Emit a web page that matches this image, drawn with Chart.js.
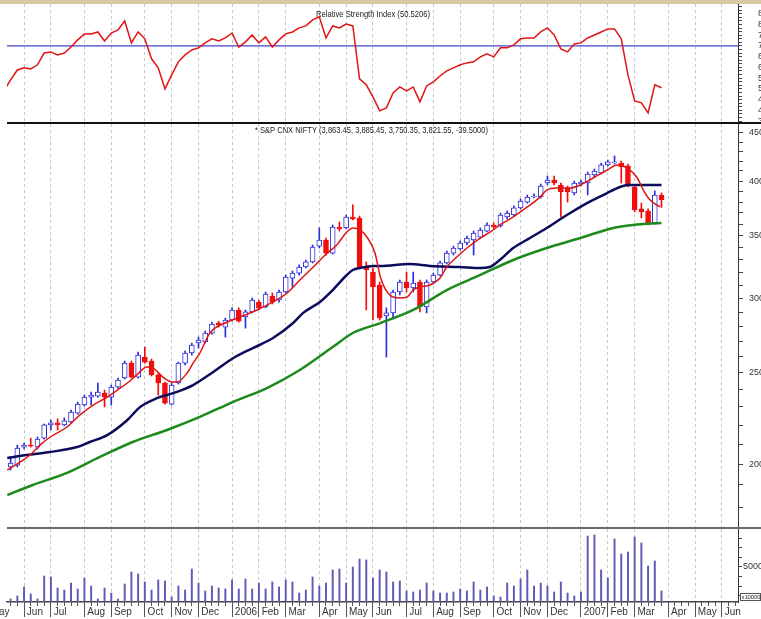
<!DOCTYPE html>
<html>
<head>
<meta charset="utf-8">
<script src="https://cdn.jsdelivr.net/npm/chart.js@4.4.1/dist/chart.umd.min.js"></script>
<style>
body { margin: 0; background: #fff; width: 761px; height: 619px; overflow: hidden; position: relative; }
canvas { position: absolute; left: 0; }
#rsiChart { top: 4px; }
#priceChart { top: 124px; }
#volChart { top: 529px; }
.band { position: absolute; left: 0; top: 0; width: 761px; height: 4px; background: #d9c8a1; }
.sep1 { position: absolute; left: 7px; top: 122px; width: 754px; height: 2px; background: #111; }
.sep2 { position: absolute; left: 7px; top: 527px; width: 754px; height: 2px; background: #6a6a6a; }
</style>
</head>
<body>
<canvas id="rsiChart" width="761" height="118"></canvas>
<canvas id="priceChart" width="761" height="404"></canvas>
<canvas id="volChart" width="761" height="90"></canvas>
<div class="band"></div>
<div class="sep1"></div>
<div class="sep2"></div>
<script>
// weekly bars, week 0 = last week of May 2005
var monthLabels = ['May','Jun','Jul','Aug','Sep','Oct','Nov','Dec','2006','Feb','Mar','Apr','May','Jun','Jul','Aug','Sep','Oct','Nov','Dec','2007','Feb','Mar','Apr','May','Jun'];
var monthWeeks = [-3.4,2,6,11,15,20,24,28,33,37,41,46,50,54,59,63,67,72,76,80,85,89,93,98,102,106];

var opens = [1986,1995,2085,2095,2085,2131,2201,2212,2201,2217,2266,2311,2356,2362,2379,2356,2415,2469,2561,2475,
  2599,2574,2488,2439,2316,2439,2561,2625,2690,2697,2756,2824,2797,2846,2917,2867,2903,2974,2939,3018,
  2989,3048,3154,3193,3241,3281,3411,3462,3353,3574,3566,3663,3654,3249,3201,3101,2874,2896,3048,3124,
  3078,3124,2939,3124,3177,3273,3353,3387,3437,3462,3487,3539,3592,3583,3663,3681,3745,3799,3847,3847,
  3981,4010,3962,3932,3885,3971,3981,4060,4080,4161,4181,4181,4151,3942,3736,3717,3610,3863.45];
var highs = [2030,2095,2105,2131,2137,2206,2228,2234,2239,2283,2328,2368,2385,2439,2397,2427,2469,2574,2574,2631,
  2664,2586,2494,2445,2439,2567,2638,2690,2730,2770,2831,2838,2860,2932,2932,2917,3004,2989,3048,3041,
  3063,3177,3209,3257,3297,3420,3566,3479,3592,3619,3681,3773,3672,3281,3233,3124,2932,3063,3139,3201,
  3201,3139,3139,3193,3289,3370,3411,3454,3496,3539,3566,3610,3610,3699,3717,3764,3828,3866,3876,3971,
  4050,4050,3981,3952,4000,4010,4090,4120,4181,4212,4254,4202,4171,3962,3790,3736,3904,3885.45];
var lows = [1971,1986,2075,2085,2075,2126,2174,2174,2196,2212,2260,2305,2311,2356,2300,2311,2409,2463,2469,2469,
  2561,2481,2368,2316,2311,2433,2549,2612,2657,2690,2749,2797,2730,2838,2831,2790,2896,2917,2932,2960,
  2974,3041,3086,3177,3233,3273,3395,3337,3345,3539,3557,3636,3233,2917,2846,2846,2599,2853,3026,3048,
  3048,2903,2896,3109,3170,3265,3337,3378,3420,3337,3479,3531,3557,3574,3645,3672,3736,3789,3837,3837,
  3962,3962,3663,3799,3866,3952,3866,4040,4070,4151,4171,3981,3942,3708,3654,3592,3601,3750.35];
var closes = [2005,2080,2095,2090,2126,2201,2212,2201,2223,2272,2316,2356,2368,2385,2356,2415,2457,2561,2475,2612,
  2567,2488,2439,2322,2427,2561,2625,2677,2710,2756,2817,2810,2846,2917,2838,2903,2989,2932,3033,2974,
  3048,3162,3193,3241,3281,3403,3462,3353,3574,3557,3663,3645,3241,3217,3086,2860,2896,3048,3124,3078,
  3116,2939,3124,3177,3273,3353,3395,3437,3479,3522,3548,3592,3574,3681,3699,3745,3808,3847,3856,3952,
  4010,3981,3894,3894,3981,3991,4070,4100,4161,4192,4192,4141,3952,3726,3708,3610,3866,3821.55];

var volumes = [1670,1980,2920,2190,1670,4060,3960,2810,2600,3330,2710,3850,3020,1670,2810,2290,1670,3230,4480,4270,
  3440,2600,3650,3540,1880,3020,2600,4790,3330,2500,3020,2810,2710,3650,2710,3750,2710,3330,2710,3440,
  2920,3650,3440,2290,2600,3960,3020,3330,4690,4790,3330,5000,5830,5730,3850,4690,4480,3440,3540,2500,
  2400,2600,3330,2500,2290,2290,2400,2710,2500,3440,2600,2920,1980,1880,3330,3020,3750,4690,3020,3330,
  3020,2400,3440,2290,1980,2400,8230,8330,4690,3850,7920,6350,6560,8130,7500,5100,5630,2500];

// moving averages (week, value)
var fastMaWeeks = [-0.5,1.4,2.9,4.4,5.9,8.4,10.3,12.3,14.4,15.9,17.4,18.8,20.3,21.2,22.7,24.1,24.8,26.3,27.2,28.2,
  29.7,32.3,34.2,36.7,39.1,41.2,43.1,45.1,47.2,48.6,50.1,51.0,52.1,53.1,54.3,55.1,56.5,58.0,59.1,60.0,
  61.0,62.5,64.0,65.0,66.5,68.0,70.0,71.5,72.9,74.9,77.0,78.9,79.9,81.4,83.4,84.9,86.8,88.9,90.4,91.3,
  92.3,93.4,94.3,95.3,96.8];
var fastMa = [1971,2010,2045,2096,2137,2190,2255,2311,2356,2397,2439,2488,2537,2531,2475,2445,2445,2500,2561,2625,
  2757,2832,2867,2917,2975,3041,3139,3241,3354,3420,3531,3566,3548,3488,3354,3162,3026,3004,3011,3063,
  3086,3101,3154,3241,3321,3395,3479,3531,3592,3663,3754,3846,3913,3932,3932,3962,4030,4110,4161,4151,
  4110,4030,3913,3818,3754];
var slowMaWeeks = [-0.5,2.4,5.9,9.9,11.8,14.4,17.4,19.3,21.8,24.2,27.2,30.2,33.2,36.1,39.1,42.1,43.6,46.1,48.0,50.1,
  51.0,52.1,54.0,55.1,59.5,62.5,66.9,70.0,71.4,72.9,74.9,77.4,79.9,82.9,85.9,88.9,90.8,91.9,97];
var slowMa = [2030,2045,2060,2085,2111,2147,2228,2300,2350,2379,2427,2506,2593,2657,2723,2825,2896,2975,3063,3178,
  3217,3233,3249,3249,3265,3249,3241,3233,3241,3297,3395,3479,3566,3681,3790,3884,3942,3962,3962];
var trendMaWeeks = [-0.5,3.3,8.4,13.3,18.2,23.3,28.2,33.1,38.2,43.1,48.0,51.0,55.1,60.0,65.0,70.0,74.9,79.9,84.9,89.8,92.8,97];
var trendMa = [1854,1900,1957,2035,2111,2174,2245,2328,2409,2518,2664,2757,2825,2917,3063,3178,3297,3395,3479,3566,3592,3610];

// RSI from week -1
var rsi = [49.1,54.2,58.8,59.8,59.3,61.2,66.7,67.2,65.8,66.7,69.5,72.8,75.6,75.6,76.5,72.3,76.0,77.4,81.6,71.4,
  76.5,73.3,64.0,59.8,50.0,56.5,62.6,65.8,68.1,69.1,71.4,73.3,72.3,73.7,76.0,69.5,71.9,75.1,71.4,74.2,
  69.5,72.8,75.6,76.5,78.4,79.3,82.1,83.5,73.7,79.3,78.4,80.2,79.3,54.7,51.9,46.3,39.8,41.2,48.1,50.9,
  49.1,50.9,44.0,51.4,53.3,56.0,58.4,59.8,61.2,62.1,62.6,64.9,66.3,64.9,69.1,69.1,70.5,73.3,73.7,73.7,
  76.5,78.4,75.1,68.6,67.2,70.9,71.4,73.7,75.1,76.5,77.9,77.9,73.3,56.5,44.4,43.5,38.8,51.9,50.52];
var rsiLevel = 70;

var priceTicks = [1800,1900,2000,2100,2200,2300,2400,2500,2600,2700,2800,2900,3000,3100,3200,3300,3400,3500,3600,3700,3800,3900,4000,4100,4200,4300,4400,4500];
var volTicks = [2000,3000,4000,5000,6000,7000,8000];

var xMin = -0.54, xMax = 108.4;

Chart.defaults.font.family = '"Liberation Sans Narrow", "Liberation Sans", Arial, sans-serif';
Chart.defaults.font.size = 10;
Chart.defaults.color = '#333';

function pts(xs, ys) {
  return xs.map(function (x, i) { return { x: x, y: ys[i] }; });
}
function isUp(i) { return closes[i] >= opens[i]; }

var titlePlugin = {
  id: 'panelTitle',
  afterDraw: function (chart, args, o) {
    if (!o || !o.text) return;
    var c = chart.ctx;
    c.save();
    c.font = '9px "Liberation Sans", Arial, sans-serif';
    c.fillStyle = '#222';
    c.textBaseline = 'middle';
    c.fillText(o.text, o.x, o.y, o.width);
    c.restore();
  }
};

function gridX() {
  return {
    type: 'linear', min: xMin, max: xMax, offset: false,
    afterBuildTicks: function (s) { s.ticks = monthWeeks.slice(1).map(function (v) { return { value: v }; }); },
    afterFit: function (s) { s.height = 0; s.paddingLeft = 0; s.paddingRight = 0; },
    ticks: { display: false },
    grid: { color: '#c6c6c6', drawTicks: false, offset: false },
    border: { display: false, dash: [3, 3] }
  };
}

function rightFit(s) { s.width = 23; s.paddingTop = 0; s.paddingBottom = 0; }

var base = {
  responsive: false, animation: false,
  layout: { padding: { left: 7, right: 0, top: 0, bottom: 0 } },
  events: []
};

// RSI panel
new Chart(document.getElementById('rsiChart'), {
  type: 'line',
  data: {
    datasets: [
      { data: pts(rsi.map(function (v, i) { return i - 1; }), rsi), borderColor: '#e01414', borderWidth: 1.5, pointRadius: 0, tension: 0 },
      { data: [{ x: xMin, y: rsiLevel }, { x: xMax, y: rsiLevel }], borderColor: '#4444c4', borderWidth: 1.2, pointRadius: 0 }
    ]
  },
  options: Object.assign({}, base, {
    plugins: { legend: { display: false }, tooltip: { enabled: false },
      panelTitle: { text: 'Relative Strength Index (50.5206)', x: 316, y: 11, width: 114 } },
    scales: {
      x: gridX(),
      y: {
        position: 'right', min: 34.6, max: 89.5,
        afterBuildTicks: function (s) {
          var t = [];
          for (var v = 35; v <= 89.4; v += 5 / 3) t.push({ value: v });
          s.ticks = t;
        },
        afterFit: rightFit,
        ticks: { autoSkip: false, padding: 16, font: { size: 9 },
          callback: function (v) { var r = Math.round(v); return (Math.abs(v - r) < 0.01 && r % 5 === 0) ? String(r) : ''; } },
        grid: { drawOnChartArea: false, tickLength: 4, tickColor: '#444' },
        border: { display: true, color: '#333', width: 1 }
      }
    }
  }),
  plugins: [titlePlugin]
});

// price panel
var weekIdx = opens.map(function (v, i) { return i; });
new Chart(document.getElementById('priceChart'), {
  type: 'line',
  data: {
    datasets: [
      { type: 'line', order: 0, data: pts(fastMaWeeks, fastMa), borderColor: '#e01414', borderWidth: 1.5, pointRadius: 0, cubicInterpolationMode: 'monotone' },
      { type: 'line', order: 0, data: pts(slowMaWeeks, slowMa), borderColor: '#0c0c5c', borderWidth: 2.5, pointRadius: 0, cubicInterpolationMode: 'monotone' },
      { type: 'line', order: 0, data: pts(trendMaWeeks, trendMa), borderColor: '#1d8a1d', borderWidth: 2.5, pointRadius: 0, cubicInterpolationMode: 'monotone' },
      { type: 'bar', order: 1, grouped: false, barThickness: 5,
        data: weekIdx.map(function (k) { return { x: k, y: [opens[k], closes[k]] }; }),
        backgroundColor: function (c) { return isUp(c.dataIndex) ? '#ffffff' : '#f20d0d'; },
        borderColor: function (c) { return isUp(c.dataIndex) ? '#2e2ed8' : '#f20d0d'; },
        borderWidth: 1, borderSkipped: false },
      { type: 'bar', order: 2, grouped: false, barThickness: 1,
        data: weekIdx.map(function (k) { return { x: k, y: [lows[k], highs[k]] }; }),
        backgroundColor: function (c) { return isUp(c.dataIndex) ? '#2e2ed8' : '#f20d0d'; },
        borderWidth: 0 }
    ]
  },
  options: Object.assign({}, base, {
    plugins: { legend: { display: false }, tooltip: { enabled: false },
      panelTitle: { text: '* S&P CNX NIFTY (3,863.45, 3,885.45, 3,750.35, 3,821.55, -39.5000)', x: 255, y: 7, width: 233 } },
    scales: {
      x: gridX(),
      y: {
        type: 'logarithmic', position: 'right', min: 1710, max: 4600,
        afterBuildTicks: function (s) { s.ticks = priceTicks.map(function (v) { return { value: v }; }); },
        afterFit: rightFit,
        ticks: { autoSkip: false, padding: 6, font: { size: 9 },
          callback: function (v) { return v % 500 === 0 ? String(v) : ''; } },
        grid: { drawOnChartArea: false, tickLength: 5, tickColor: '#444' },
        border: { display: true, color: '#333', width: 1 }
      }
    }
  }),
  plugins: [titlePlugin]
});

// volume panel
var volX = {
  type: 'linear', min: xMin, max: xMax, offset: false, position: 'bottom', weight: 1,
  afterBuildTicks: function (s) { s.ticks = monthWeeks.map(function (v) { return { value: v }; }); },
  afterFit: function (s) { s.height = 17; s.paddingLeft = 0; s.paddingRight = 0; },
  ticks: { autoSkip: false, maxRotation: 0, minRotation: 0, align: 'start', padding: -11, color: '#333',
    callback: function (v, i) { return ' ' + monthLabels[i]; } },
  grid: { drawOnChartArea: false, tickLength: 15, tickColor: '#555', offset: false },
  border: { display: true, color: '#444', width: 1.5 }
};
var weekX = {
  type: 'linear', min: xMin, max: xMax, offset: false, position: 'bottom', weight: 0,
  afterBuildTicks: function (s) { var t = []; for (var k = 0; k <= 108; k++) t.push({ value: k }); s.ticks = t; },
  afterFit: function (s) { s.height = 0; s.paddingLeft = 0; s.paddingRight = 0; },
  ticks: { display: false },
  grid: { drawOnChartArea: false, tickLength: 4, tickColor: '#555', offset: false },
  border: { display: false }
};

new Chart(document.getElementById('volChart'), {
  type: 'bar',
  data: {
    datasets: [
      { data: pts(weekIdx, volumes), backgroundColor: '#5f5ab4', barThickness: 1.3, grouped: false }
    ]
  },
  options: Object.assign({}, base, {
    plugins: { legend: { display: false }, tooltip: { enabled: false } },
    scales: {
      x: gridX(),
      xw: weekX,
      xm: volX,
      y: {
        position: 'right', min: 1354, max: 8958,
        afterBuildTicks: function (s) { s.ticks = volTicks.map(function (v) { return { value: v }; }); },
        afterFit: rightFit,
        ticks: { autoSkip: false, padding: 1, font: { size: 9 },
          callback: function (v) { return v === 5000 ? '5000' : ''; } },
        grid: { drawOnChartArea: false, tickLength: 4, tickColor: '#444' },
        border: { display: true, color: '#333', width: 1 }
      }
    }
  }),
  plugins: [{
    id: 'unitBox',
    afterDraw: function (chart) {
      var c = chart.ctx;
      c.save();
      c.strokeStyle = '#555';
      c.lineWidth = 1;
      c.fillStyle = '#fff';
      c.fillRect(740.5, 64.5, 20, 7);
      c.strokeRect(740.5, 64.5, 20, 7);
      c.fillStyle = '#222';
      c.font = '6px "Liberation Sans", Arial, sans-serif';
      c.textBaseline = 'middle';
      c.fillText('x10000', 741.5, 68.5, 19);
      c.restore();
    }
  }]
});
</script>
</body>
</html>
